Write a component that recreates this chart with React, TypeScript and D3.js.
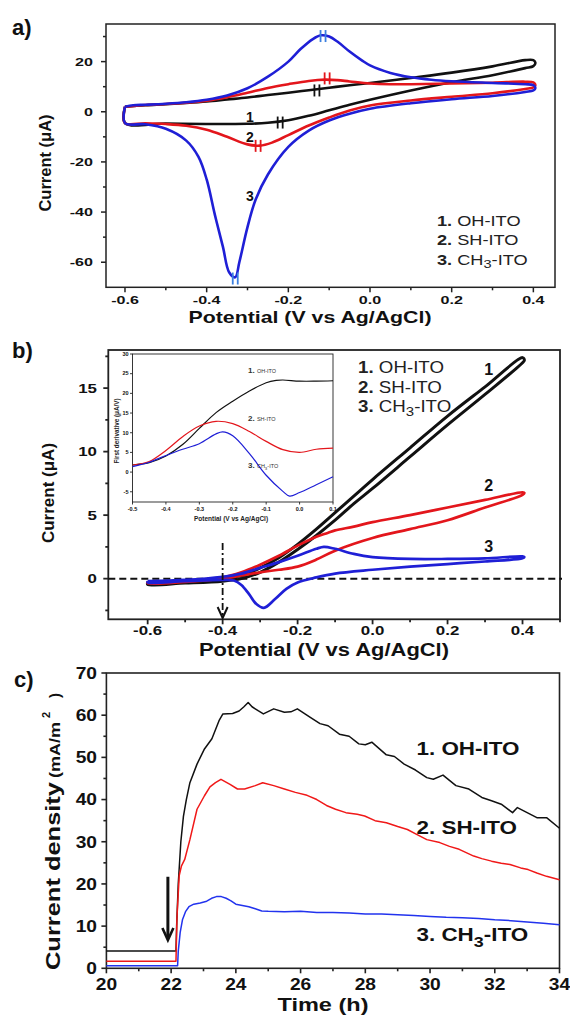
import React from "react";
import * as d3 from "d3";

type P = [number, number];

// a) cyclic voltammograms [V, µA]: forward sweep then reverse sweep
const cvOH: P[] = [
  [-0.6, 2.0], [-0.55, 2.6], [-0.5, 3.0], [-0.45, 3.5], [-0.4, 4.1], [-0.35, 4.9], [-0.3, 5.7],
  [-0.25, 6.7], [-0.2, 7.6], [-0.15, 8.6], [-0.1, 9.6], [-0.05, 10.6], [0.0, 11.5], [0.1, 13.5],
  [0.2, 15.6], [0.3, 18.1], [0.38, 20.6], [0.4, 20.6], [0.405, 19.5], [0.4, 18.2], [0.38, 17.4],
  [0.3, 14.6], [0.2, 11.8], [0.1, 8.5], [0.0, 4.8], [-0.05, 2.8], [-0.1, 0.6], [-0.15, -1.6],
  [-0.2, -3.4], [-0.25, -4.4], [-0.3, -4.8], [-0.4, -4.9], [-0.5, -4.7], [-0.6, -4.5], [-0.6, 2.0],
];
const cvSH: P[] = [
  [-0.6, 2.0], [-0.55, 2.7], [-0.5, 3.1], [-0.45, 3.6], [-0.4, 4.4], [-0.35, 5.8], [-0.3, 7.6],
  [-0.25, 9.5], [-0.2, 11.0], [-0.15, 12.3], [-0.11, 12.8], [-0.08, 12.6], [-0.05, 12.1], [0.0, 11.3],
  [0.05, 11.0], [0.1, 11.0], [0.2, 11.3], [0.3, 11.6], [0.38, 12.0], [0.4, 11.7], [0.405, 10.6],
  [0.4, 9.7], [0.38, 9.1], [0.3, 7.4], [0.2, 6.0], [0.1, 4.5], [0.0, 2.5], [-0.05, 0.5], [-0.1, -2.3],
  [-0.15, -5.5], [-0.2, -9.3], [-0.24, -12.3], [-0.27, -13.5], [-0.3, -13.0], [-0.35, -10.0],
  [-0.4, -7.2], [-0.45, -5.6], [-0.5, -4.9], [-0.55, -4.6], [-0.6, -4.5], [-0.6, 2.0],
];
const cvCH3: P[] = [
  [-0.6, 2.0], [-0.58, 2.6], [-0.55, 2.8], [-0.5, 3.2], [-0.45, 3.8], [-0.4, 4.8], [-0.35, 6.5],
  [-0.3, 9.4], [-0.25, 14.0], [-0.2, 20.0], [-0.17, 25.0], [-0.14, 29.0], [-0.12, 30.5], [-0.1, 30.0],
  [-0.08, 28.0], [-0.05, 24.0], [-0.02, 20.5], [0.0, 18.5], [0.05, 15.5], [0.1, 13.8], [0.15, 12.8],
  [0.2, 12.2], [0.3, 11.5], [0.38, 11.0], [0.4, 10.6], [0.405, 9.5], [0.4, 8.5], [0.38, 7.9],
  [0.3, 6.3], [0.2, 5.0], [0.1, 3.4], [0.0, 1.2], [-0.05, -0.8], [-0.1, -3.5], [-0.15, -7.5],
  [-0.2, -14.0], [-0.25, -25.0], [-0.28, -35.0], [-0.3, -46.0], [-0.32, -60.0], [-0.33, -66.0],
  [-0.345, -64.0], [-0.36, -54.0], [-0.38, -41.0], [-0.4, -27.0], [-0.42, -18.0], [-0.45, -11.5],
  [-0.5, -6.8], [-0.55, -5.0], [-0.6, -4.5], [-0.6, 2.0],
];
// peak potentials marked with a double bar
const cvPeaks = [
  { v: -0.13, i: 8.5, color: "#111" },
  { v: -0.22, i: -4.3, color: "#111" },
  { v: -0.105, i: 13.3, color: "#e3161c" },
  { v: -0.274, i: -13.6, color: "#e3161c" },
  { v: -0.115, i: 30.2, color: "#3b7fe0" },
  { v: -0.33, i: -66.5, color: "#3b7fe0" },
];
const cvCurveLabels = [
  { text: "1", v: -0.294, i: -2.1 },
  { text: "2", v: -0.294, i: -10.2 },
  { text: "3", v: -0.294, i: -33.6 },
];
const aTicksX = [-0.6, -0.4, -0.2, 0.0, 0.2, 0.4];
const aMinorX = [-0.5, -0.3, -0.1, 0.1, 0.3];
const aTicksY = [-60, -40, -20, 0, 20];
const aMinorY = [-50, -30, -10, 10, 30];

// b) linear sweeps [V, µA]
const lsvOH: P[] = [
  [-0.6, -0.3], [-0.5, -0.2], [-0.4, 0.05], [-0.35, 0.25], [-0.3, 0.85], [-0.25, 1.65], [-0.2, 2.7],
  [-0.15, 3.9], [-0.1, 5.2], [-0.05, 6.5], [0.0, 7.8], [0.1, 10.3], [0.2, 12.8], [0.3, 15.1],
  [0.4, 17.4], [0.405, 17.2], [0.4, 17.0], [0.3, 14.5], [0.2, 12.1], [0.1, 9.6], [0.0, 7.1],
  [-0.05, 5.9], [-0.1, 4.6], [-0.15, 3.4], [-0.2, 2.3], [-0.25, 1.3], [-0.3, 0.5], [-0.35, 0.0],
  [-0.4, -0.2], [-0.5, -0.35], [-0.6, -0.45], [-0.6, -0.3],
];
const lsvSH: P[] = [
  [-0.6, -0.25], [-0.5, -0.15], [-0.4, 0.1], [-0.35, 0.5], [-0.3, 1.1], [-0.25, 1.8], [-0.2, 2.6],
  [-0.15, 3.3], [-0.12, 3.6], [-0.1, 3.8], [-0.05, 4.1], [0.0, 4.45], [0.1, 5.0], [0.2, 5.6],
  [0.3, 6.2], [0.4, 6.8], [0.405, 6.75], [0.4, 6.6], [0.3, 5.6], [0.2, 4.6], [0.1, 3.9], [0.0, 3.2],
  [-0.1, 2.2], [-0.15, 1.5], [-0.2, 0.95], [-0.25, 0.7], [-0.3, 0.5], [-0.35, 0.25], [-0.4, 0.0],
  [-0.5, -0.25], [-0.6, -0.35], [-0.6, -0.25],
];
const lsvCH3: P[] = [
  [-0.6, -0.2], [-0.5, -0.1], [-0.4, 0.15], [-0.35, 0.4], [-0.3, 0.85], [-0.25, 1.3], [-0.2, 1.8],
  [-0.15, 2.35], [-0.13, 2.5], [-0.1, 2.35], [-0.05, 1.95], [0.0, 1.7], [0.1, 1.55], [0.2, 1.55],
  [0.3, 1.6], [0.4, 1.75], [0.405, 1.7], [0.4, 1.6], [0.3, 1.35], [0.2, 1.15], [0.1, 0.95],
  [0.0, 0.7], [-0.1, 0.4], [-0.15, 0.1], [-0.2, -0.3], [-0.23, -0.8], [-0.26, -1.6], [-0.29, -2.3],
  [-0.31, -2.0], [-0.33, -1.2], [-0.35, -0.5], [-0.37, -0.15], [-0.4, -0.1], [-0.5, -0.2],
  [-0.6, -0.3], [-0.6, -0.2],
];
const onsetV = -0.4;
const onsetTop = 2.8;
const bTicksX = [-0.6, -0.4, -0.2, 0.0, 0.2, 0.4];
const bMinorX = [-0.5, -0.3, -0.1, 0.1, 0.3, 0.5];
const bTicksY = [0, 5, 10, 15];
const bMinorY = [-2.5, 2.5, 7.5, 12.5, 17.5];
const bCurveLabels = [
  { text: "1", v: 0.31, i: 16.5 },
  { text: "2", v: 0.31, i: 7.4 },
  { text: "3", v: 0.31, i: 2.6 },
];

// b) inset: first derivative [V, µA/V]
const derivOH: P[] = [
  [-0.5, 1.8], [-0.45, 2.4], [-0.4, 4.1], [-0.35, 7.0], [-0.3, 11.1], [-0.25, 15.1], [-0.2, 18.0],
  [-0.15, 20.6], [-0.1, 22.7], [-0.07, 23.3], [-0.05, 23.4], [0.0, 23.1], [0.05, 23.1], [0.1, 23.2],
];
const derivSH: P[] = [
  [-0.5, 1.8], [-0.45, 2.7], [-0.4, 5.5], [-0.35, 9.0], [-0.3, 11.7], [-0.25, 12.9], [-0.2, 12.3],
  [-0.15, 10.3], [-0.1, 7.8], [-0.05, 5.7], [0.0, 5.0], [0.05, 5.8], [0.1, 6.1],
];
const derivCH3: P[] = [
  [-0.5, 1.4], [-0.45, 2.5], [-0.4, 4.2], [-0.35, 5.8], [-0.3, 7.2], [-0.25, 9.7], [-0.23, 10.2],
  [-0.2, 9.2], [-0.15, 4.7], [-0.1, -0.8], [-0.05, -4.9], [-0.03, -6.1], [0.0, -5.2], [0.05, -3.2],
  [0.1, -1.2],
];
const insetTicksX = [-0.5, -0.4, -0.3, -0.2, -0.1, 0.0, 0.1];
const insetTicksY = [-5, 0, 5, 10, 15, 20, 25, 30];

// c) chronoamperometry [h, mA/m²]
const caOH: P[] = [
  [20, 4.1], [22.15, 4.1], [22.17, 10], [22.22, 20], [22.3, 30], [22.38, 36], [22.47, 40],
  [22.58, 44], [22.8, 48.4], [23.03, 52], [23.26, 54.4], [23.48, 58.7], [23.6, 60.3], [23.9, 60.4],
  [24.1, 61], [24.25, 62], [24.38, 63], [24.5, 62], [24.7, 61], [24.85, 60.3], [25.17, 61.5],
  [25.5, 60.7], [25.7, 60.8], [25.9, 61.5], [26.3, 59.5], [26.6, 58], [26.85, 57.5], [27.2, 55.5],
  [27.5, 55], [27.8, 53.2], [28.0, 53], [28.2, 53.6], [28.65, 50.6], [28.9, 50.2], [29.2, 48.4],
  [29.55, 47], [29.9, 45.2], [30.1, 44.8], [30.4, 45.8], [30.8, 43.3], [31.2, 42.5], [31.6, 40.5],
  [31.9, 39.7], [32.2, 38.9], [32.55, 36.9], [32.7, 38.1], [33.0, 36.9], [33.3, 35.7], [33.6, 35.7],
  [34.0, 33.2],
];
const caSH: P[] = [
  [20, 1.7], [22.15, 1.7], [22.18, 12], [22.25, 22], [22.32, 24.3], [22.42, 25.8], [22.58, 30.5],
  [22.8, 37.7], [23.03, 40.9], [23.2, 43], [23.37, 44], [23.54, 44.8], [23.82, 43.6], [24.05, 42.5],
  [24.27, 42.5], [24.6, 43.3], [24.83, 44], [25.17, 43.3], [25.5, 42.5], [25.84, 41.7], [26.2, 41],
  [26.5, 40], [26.8, 38.6], [27.08, 37.7], [27.4, 36.9], [27.75, 36.5], [27.98, 36.1], [28.3, 35],
  [28.65, 34.5], [29.0, 33.6], [29.3, 32.9], [29.6, 31.7], [29.9, 30.5], [30.3, 29.8], [30.6, 28.9],
  [30.9, 28.2], [31.35, 26.6], [31.6, 26], [31.9, 25.4], [32.2, 24.9], [32.47, 24.6], [32.8, 23.8],
  [33.03, 23.4], [33.3, 22.6], [33.6, 21.8], [34.0, 21],
];
const caCH3: P[] = [
  [20, 0.6], [22.2, 0.6], [22.22, 4], [22.28, 8.5], [22.35, 11.5], [22.45, 13.5], [22.55, 14.6],
  [22.7, 15.2], [22.9, 15.5], [23.1, 15.9], [23.25, 16.6], [23.4, 17], [23.55, 17], [23.7, 16.6],
  [23.85, 16], [24.0, 15.2], [24.2, 14.9], [24.4, 14.6], [24.6, 14.1], [24.8, 13.6], [25.0, 13.5],
  [25.5, 13.4], [26.0, 13.5], [26.5, 13.2], [27.0, 13.2], [27.5, 13.1], [28.0, 12.9], [28.5, 12.9],
  [29.0, 12.7], [29.5, 12.5], [30.0, 12.3], [30.5, 12.1], [31.0, 12.0], [31.5, 11.8], [32.0, 11.5],
  [32.5, 11.3], [33.0, 11.0], [33.5, 10.7], [34.0, 10.3],
];
const injectTime = 21.9;
const injectFrom = 21.7;
const injectTo = 6.7;
const cTicksX = [20, 22, 24, 26, 28, 30, 32, 34];
const cMinorX = [21, 23, 25, 27, 29, 31, 33];
const cTicksY = [0, 10, 20, 30, 40, 50, 60, 70];
const cMinorY = [5, 15, 25, 35, 45, 55, 65];

const seriesNames = ["OH-ITO", "SH-ITO", "CH3-ITO"];
const BLACK = "#111";
const RED = "#e3161c";
const BLUE = "#1f1fd6";
const FONT = "'Liberation Sans', Arial, Helvetica, sans-serif";

type Scale = d3.ScaleLinear<number, number>;

const smooth = (x: Scale, y: Scale) =>
  d3.line<P>().x((d) => x(d[0])).y((d) => y(d[1])).curve(d3.curveCatmullRom.alpha(0.5));
const straight = (x: Scale, y: Scale) =>
  d3.line<P>().x((d) => x(d[0])).y((d) => y(d[1]));

const f1 = (v: number) => v.toFixed(1);
const f0 = (v: number) => String(v);

function T({ x, y, sx = 1, size, anchor = "start", weight = "bold", fill = "#111", children }: any) {
  return (
    <text
      transform={`translate(${x},${y}) scale(${sx},1)`}
      fontSize={size}
      textAnchor={anchor}
      fontWeight={weight}
      fill={fill}
      fontFamily={FONT}
    >
      {children}
    </text>
  );
}

function Frame({ x, y, tx, mx, ty, my, fx, fy, major = 5, minor = 3, sw = 1.5, size, sx, xLab, yLab, bg }: any) {
  const [x0, x1] = x.range();
  const [y0, y1] = y.range();
  return (
    <g>
      <rect x={x0} y={y1} width={x1 - x0} height={y0 - y1} fill={bg || "none"} stroke="#222" strokeWidth={sw} />
      {tx.map((t: number) => (
        <line key={"tx" + t} x1={x(t)} x2={x(t)} y1={y0} y2={y0 + major} stroke="#222" strokeWidth={sw} />
      ))}
      {mx.map((t: number) => (
        <line key={"mx" + t} x1={x(t)} x2={x(t)} y1={y0} y2={y0 + minor} stroke="#222" strokeWidth={sw} />
      ))}
      {ty.map((t: number) => (
        <line key={"ty" + t} x1={x0} x2={x0 - major} y1={y(t)} y2={y(t)} stroke="#222" strokeWidth={sw} />
      ))}
      {my.map((t: number) => (
        <line key={"my" + t} x1={x0} x2={x0 - minor} y1={y(t)} y2={y(t)} stroke="#222" strokeWidth={sw} />
      ))}
      {tx.map((t: number) => (
        <T key={"lx" + t} x={x(t)} y={xLab} size={size} sx={sx} anchor="middle">
          {fx(t)}
        </T>
      ))}
      {ty.map((t: number) => (
        <T key={"ly" + t} x={yLab} y={y(t) + size * 0.36} size={size} sx={sx} anchor="end">
          {fy(t)}
        </T>
      ))}
    </g>
  );
}

function Name({ i, sub = 3, num = true }: any) {
  const n = seriesNames[i];
  if (n.startsWith("CH3")) {
    return (
      <>
        {num ? <tspan fontWeight="bold">{i + 1}. </tspan> : null}
        <tspan>CH</tspan>
        <tspan dy={sub} fontSize="0.8em">3</tspan>
        <tspan dy={-sub}>-ITO</tspan>
      </>
    );
  }
  return (
    <>
      {num ? <tspan fontWeight="bold">{i + 1}. </tspan> : null}
      <tspan>{n}</tspan>
    </>
  );
}

export default function App() {
  // panel a
  const xa = d3.scaleLinear().domain([-0.6465, 0.453]).range([106, 555]);
  const ya = d3.scaleLinear().domain([-70, 35]).range([287.3, 24]);
  const la = smooth(xa, ya);

  // panel b
  const xb = d3.scaleLinear().domain([-0.705, 0.5]).range([108.3, 560]);
  const yb = d3.scaleLinear().domain([-3.2, 18]).range([619.3, 350]);
  const lb = smooth(xb, yb);
  const xi = d3.scaleLinear().domain([-0.5, 0.1]).range([132.5, 333]);
  const yi = d3.scaleLinear().domain([-7.6, 30]).range([502, 354]);
  const li = smooth(xi, yi);

  // panel c
  const xc = d3.scaleLinear().domain([20, 34]).range([106.4, 559.5]);
  const yc = d3.scaleLinear().domain([0, 70]).range([968.3, 673]);
  const lc = straight(xc, yc);

  const colors = [BLACK, RED, BLUE];

  return (
    <svg width={570} height={1015} style={{ position: "absolute", left: 0, top: 0, background: "#fff" }}>
      <rect width={570} height={1015} fill="#fff" />

      {/* ---------- a ---------- */}
      <T x={12} y={35} size={22}>a)</T>
      <Frame x={xa} y={ya} tx={aTicksX} mx={aMinorX} ty={aTicksY} my={aMinorY} fx={f1} fy={f0}
        size={11.5} sx={1.4} xLab={304} yLab={93} />
      {[cvOH, cvSH, cvCH3].map((d, k) => (
        <path key={k} d={la(d) || ""} fill="none" stroke={colors[k]} strokeWidth={2.6} strokeLinejoin="round" />
      ))}
      {cvPeaks.map((p, k) => (
        <g key={k} stroke={p.color} strokeWidth={1.8}>
          <line x1={xa(p.v) - 2.5} x2={xa(p.v) - 2.5} y1={ya(p.i) - 6} y2={ya(p.i) + 6} />
          <line x1={xa(p.v) + 2.5} x2={xa(p.v) + 2.5} y1={ya(p.i) - 6} y2={ya(p.i) + 6} />
        </g>
      ))}
      {cvCurveLabels.map((c) => (
        <T key={c.text} x={xa(c.v)} y={ya(c.i) + 5} size={14} anchor="middle">{c.text}</T>
      ))}
      {seriesNames.map((_, k) => (
        <T key={k} x={437} y={225.7 + k * 19.7} size={14} sx={1.3} weight="normal" fill="#222">
          <Name i={k} sub={3} />
        </T>
      ))}
      <text transform="translate(51,163) rotate(-90)" textAnchor="middle" fontSize={16.5} fontWeight="bold"
        fontFamily={FONT} fill="#111">Current (μA)</text>
      <text x={310} y={323} textAnchor="middle" fontSize={16.5} fontWeight="bold" fontFamily={FONT} fill="#111"
        textLength={243} lengthAdjust="spacingAndGlyphs">Potential (V vs Ag/AgCl)</text>

      {/* ---------- b ---------- */}
      <T x={12} y={358} size={22}>b)</T>
      <Frame x={xb} y={yb} tx={bTicksX} mx={bMinorX} ty={bTicksY} my={bMinorY} fx={f1} fy={f0}
        size={13} sx={1.3} xLab={635} yLab={97} sw={1.8} />
      <line x1={108.3} x2={562} y1={yb(0)} y2={yb(0)} stroke="#111" strokeWidth={2} strokeDasharray="7,4" />
      {[lsvOH, lsvSH, lsvCH3].map((d, k) => (
        <path key={k} d={lb(d) || ""} fill="none" stroke={colors[k]} strokeWidth={k === 0 ? 3 : 2.7}
          strokeLinejoin="round" />
      ))}
      <line x1={xb(onsetV)} x2={xb(onsetV)} y1={yb(onsetTop)} y2={616} stroke="#111" strokeWidth={1.8}
        strokeDasharray="7,3,2,3" />
      <path d={`M${xb(onsetV) - 5},${607} L${xb(onsetV)},${618} L${xb(onsetV) + 5},${607}`} fill="none"
        stroke="#111" strokeWidth={2} />
      {bCurveLabels.map((c) => (
        <T key={c.text} x={xb(c.v)} y={yb(c.i) + 6} size={16} anchor="middle">{c.text}</T>
      ))}
      {seriesNames.map((_, k) => (
        <T key={k} x={358} y={373 + k * 19.5} size={16} sx={1.17} weight="normal" fill="#222">
          <Name i={k} sub={4} />
        </T>
      ))}
      <text transform="translate(54,493) rotate(-90)" textAnchor="middle" fontSize={17} fontWeight="bold"
        fontFamily={FONT} fill="#111">Current (μA)</text>
      <text x={324} y={656} textAnchor="middle" fontSize={17.5} fontWeight="bold" fontFamily={FONT} fill="#111"
        textLength={250} lengthAdjust="spacingAndGlyphs">Potential (V vs Ag/AgCl)</text>

      {/* inset */}
      <Frame x={xi} y={yi} tx={insetTicksX} mx={[]} ty={insetTicksY} my={[]} fx={f1} fy={f0}
        size={5} sx={1.1} xLab={511} yLab={128.5} major={2.5} sw={0.9} bg="#fff" />
      {[derivOH, derivSH, derivCH3].map((d, k) => (
        <path key={k} d={li(d) || ""} fill="none" stroke={colors[k]} strokeWidth={1.2} />
      ))}
      {[372.5, 421, 468].map((yy, k) => (
        <T key={k} x={248} y={yy} size={7} weight="normal" fill="#333">
          <tspan fontWeight="bold" fontSize={8}>{k + 1}. </tspan>
          <tspan fontSize={5.5}><Name i={k} num={false} sub={1.5} /></tspan>
        </T>
      ))}
      <text x={231} y={521} textAnchor="middle" fontSize={6.5} fontWeight="bold" fontFamily={FONT} fill="#222">
        Potential (V vs Ag/AgCl)
      </text>
      <text transform="translate(119,431) rotate(-90)" textAnchor="middle" fontSize={6.3} fontWeight="bold"
        fontFamily={FONT} fill="#222">First derivative (μA/V)</text>

      {/* ---------- c ---------- */}
      <T x={14} y={687} size={22}>c)</T>
      <Frame x={xc} y={yc} tx={cTicksX} mx={cMinorX} ty={cTicksY} my={cMinorY} fx={f0} fy={f0}
        size={16} sx={1.2} xLab={990} yLab={97} sw={1.6} />
      {[caOH, caSH, caCH3].map((d, k) => (
        <path key={k} d={lc(d) || ""} fill="none" stroke={k === 2 ? "#2233ee" : k === 1 ? "#f01818" : BLACK}
          strokeWidth={1.5} strokeLinejoin="round" />
      ))}
      <line x1={xc(injectTime)} x2={xc(injectTime)} y1={yc(injectFrom)} y2={yc(injectTo) - 2} stroke="#111"
        strokeWidth={3} />
      <path
        d={`M${xc(injectTime) - 5.5},${yc(injectTo) - 12} L${xc(injectTime)},${yc(injectTo)} L${xc(injectTime) + 5.5},${yc(injectTo) - 12}`}
        fill="none" stroke="#111" strokeWidth={2.6}
      />
      {[755, 833.5, 941].map((yy, k) => (
        <T key={k} x={416.5} y={yy} size={19} sx={1.18} weight="bold" fill="#111">
          <Name i={k} sub={6} />
        </T>
      ))}
      <text transform="translate(60,970) rotate(-90)" textAnchor="start" fontSize={21} fontWeight="bold"
        fontFamily={FONT} fill="#111" textLength={188} lengthAdjust="spacingAndGlyphs">Current density</text>
      <text transform="translate(60,778) rotate(-90)" textAnchor="start" fontSize={15} fontWeight="bold"
        fontFamily={FONT} fill="#111" textLength={56} lengthAdjust="spacingAndGlyphs">(mA/m</text>
      <text transform="translate(50,718) rotate(-90)" textAnchor="start" fontSize={11} fontWeight="bold"
        fontFamily={FONT} fill="#111">2</text>
      <text transform="translate(60,698) rotate(-90)" textAnchor="start" fontSize={15} fontWeight="bold"
        fontFamily={FONT} fill="#111">)</text>
      <text x={323} y={1011} textAnchor="middle" fontSize={19} fontWeight="bold" fontFamily={FONT} fill="#111"
        textLength={91} lengthAdjust="spacingAndGlyphs">Time (h)</text>
    </svg>
  );
}
